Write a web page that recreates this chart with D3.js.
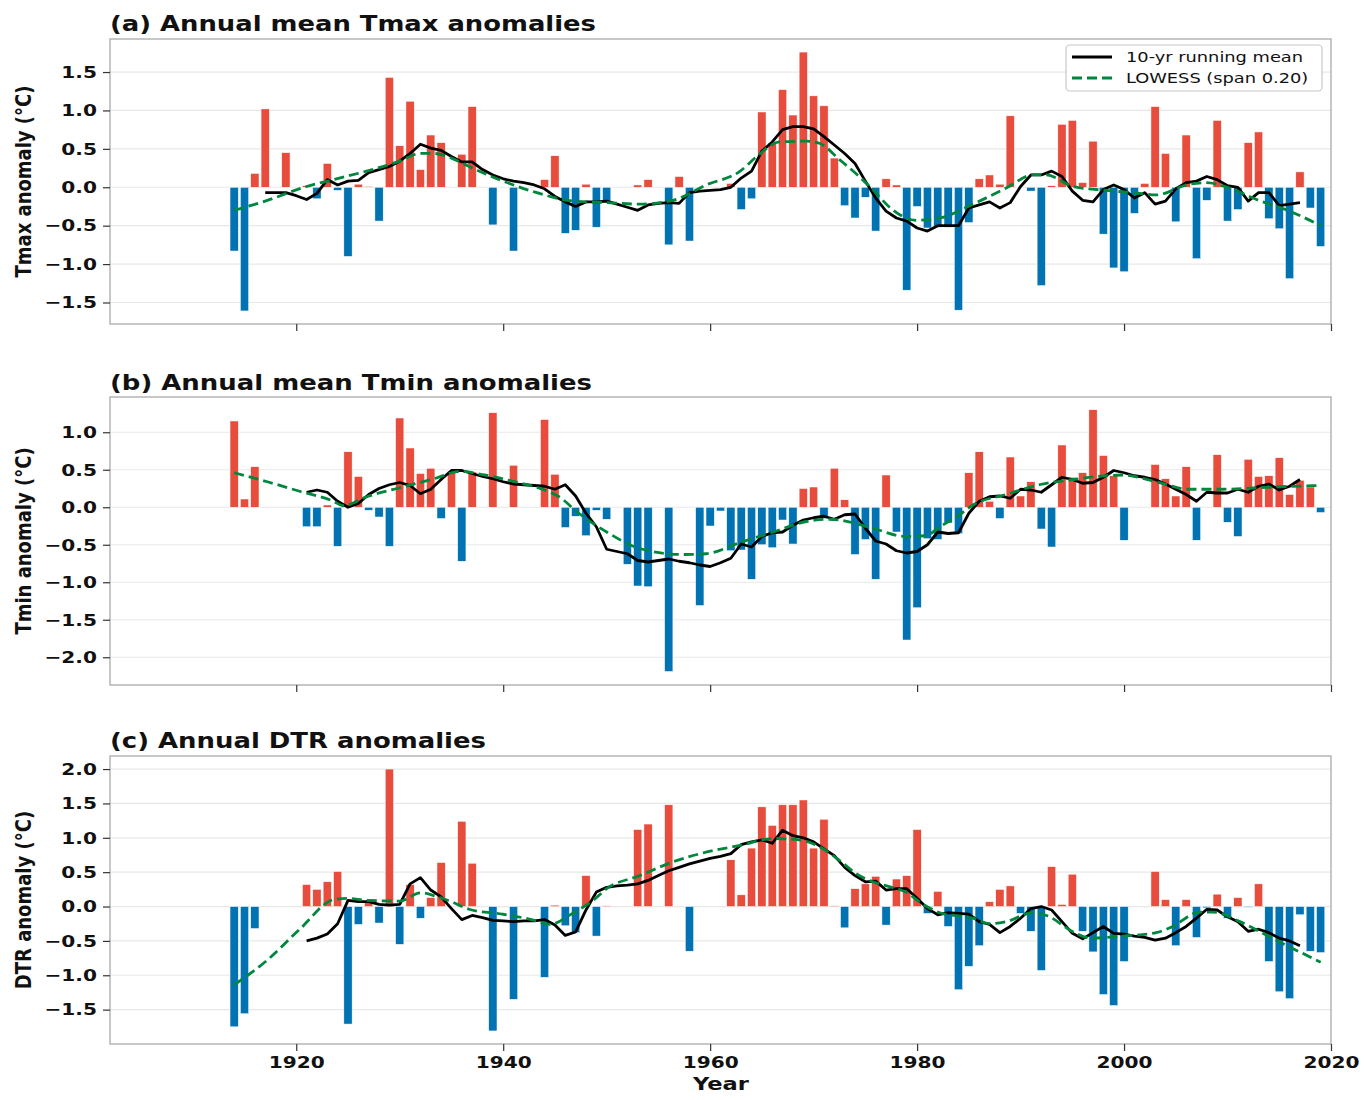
<!DOCTYPE html>
<html lang="en">
<head>
  <meta charset="UTF-8">
  <title>Annual Tmax, Tmin and DTR anomalies</title>
  <style>
    body { margin:0; background:#fff; }
    #chart { display:block; font-family:"DejaVu Sans", sans-serif; }
    .bold { font-weight:bold; }
  </style>
</head>
<body>
  <svg id="chart" width="1372" height="1100"></svg>
  <script src="https://d3js.org/d3.v7.min.js"></script>
  <script>
    // ---- data (null = no value that year) ----
    const years = d3.range(1914, 2020);

    const tmax = [
      -0.83, -1.61, 0.18, 1.02, null, 0.45, null, 0.02, -0.15, 0.31,   // 1914-1923
      -0.04, -0.90, 0.04, 0.01, -0.44, 1.43, 0.54, 1.12, 0.23, 0.68,   // 1924-1933
      0.58, null, 0.43, 1.05, null, -0.49, null, -0.83, null, null,    // 1934-1943
      0.10, 0.41, -0.60, -0.56, 0.04, -0.52, -0.20, null, null, 0.03,  // 1944-1953
      0.10, null, -0.75, 0.14, -0.70, null, null, null, 0.05, -0.29,   // 1954-1963
      -0.15, 0.98, 0.58, 1.27, 0.94, 1.76, 1.19, 1.06, 0.38, -0.24,    // 1964-1973
      -0.40, -0.13, -0.57, 0.11, 0.03, -1.34, -0.25, -0.53, -0.52, -0.52, // 1974-1983
      -1.60, -0.46, 0.11, 0.16, 0.04, 0.93, null, -0.05, -1.28, 0.02,  // 1984-1993
      0.82, 0.87, 0.06, 0.60, -0.61, -1.05, -1.10, -0.34, 0.05, 1.05,  // 1994-2003
      0.44, -0.45, 0.68, -0.93, -0.17, 0.87, -0.44, -0.29, 0.58, 0.72, // 2004-2013
      -0.41, -0.54, -1.19, 0.20, -0.27, -0.77                          // 2014-2019
    ];
    const tmin = [
      1.15, 0.11, 0.54, null, null, null, null, -0.26, -0.26, 0.03,    // 1914-1923
      -0.52, 0.74, 0.41, -0.04, -0.13, -0.52, 1.19, 0.79, 0.45, 0.52,  // 1924-1933
      -0.15, 0.48, -0.72, 0.47, null, 1.26, null, 0.56, null, null,    // 1934-1943
      1.17, 0.44, -0.27, -0.12, -0.38, -0.04, -0.16, null, -0.76, -1.05, // 1944-1953
      -1.06, null, -2.19, null, null, -1.31, -0.25, -0.05, -0.58, -0.57, // 1954-1963
      -0.96, -0.50, -0.54, -0.17, -0.49, 0.25, 0.27, -0.15, 0.52, 0.10, // 1964-1973
      -0.63, -0.43, -0.96, 0.43, -0.33, -1.77, -1.34, -0.42, -0.43, -0.21, // 1974-1983
      -0.35, 0.46, 0.74, 0.08, -0.15, 0.67, 0.15, 0.34, -0.29, -0.53,  // 1984-1993
      0.83, 0.40, 0.46, 1.30, 0.69, 0.42, -0.44, null, null, 0.57,     // 1994-2003
      0.38, 0.15, 0.54, -0.44, null, 0.70, -0.20, -0.39, 0.64, 0.41,   // 2004-2013
      0.42, 0.66, 0.17, 0.36, 0.27, -0.07                              // 2014-2019
    ];
    const dtr = [
      -1.75, -1.56, -0.32, null, null, null, null, 0.32, 0.25, 0.36,   // 1914-1923
      0.51, -1.71, -0.26, 0.07, -0.24, 2.00, -0.55, 0.32, -0.17, 0.13, // 1924-1933
      0.64, null, 1.24, 0.63, null, -1.81, null, -1.35, null, null,    // 1934-1943
      -1.03, 0.02, -0.28, -0.38, 0.45, -0.43, 0.01, null, null, 1.12,  // 1944-1953
      1.20, null, 1.48, null, -0.65, null, null, null, 0.68, 0.17,     // 1954-1963
      0.85, 1.45, 1.18, 1.48, 1.48, 1.55, 0.85, 1.27, 0.01, -0.31,     // 1964-1973
      0.26, 0.33, 0.44, -0.27, 0.40, 0.45, 1.12, -0.10, 0.22, -0.29,   // 1974-1983
      -1.21, -0.87, -0.57, 0.07, 0.25, 0.30, -0.10, -0.36, -0.93, 0.58, // 1984-1993
      0.03, 0.47, -0.36, -0.66, -1.28, -1.44, -0.80, null, null, 0.51, // 1994-2003
      0.10, -0.57, 0.10, -0.45, -0.02, 0.18, -0.17, 0.13, -0.01, 0.33, // 2004-2013
      -0.80, -1.24, -1.34, -0.12, -0.65, -0.67                         // 2014-2019
    ];

    // 10-yr running means
    const runTmaxYears = d3.range(1917, 2018);
    const runTmax = [
      -0.07, -0.07, -0.07, -0.11, -0.16, -0.08, 0.10, 0.03, 0.08, 0.09,
      0.19, 0.23, 0.27, 0.34, 0.44, 0.56, 0.51, 0.48, 0.40, 0.33,
      0.33, 0.23, 0.16, 0.11, 0.08, 0.06, 0.03, -0.02, -0.12, -0.19,
      -0.25, -0.19, -0.19, -0.18, -0.22, -0.26, -0.30, -0.23, -0.21, -0.20,
      -0.21, -0.07, -0.05, -0.04, -0.03, 0.00, 0.12, 0.21, 0.47, 0.59,
      0.75, 0.79, 0.79, 0.76, 0.66, 0.55, 0.44, 0.31, 0.08, -0.14,
      -0.31, -0.40, -0.44, -0.53, -0.57, -0.50, -0.50, -0.50, -0.27, -0.23,
      -0.19, -0.27, -0.20, 0.01, 0.16, 0.16, 0.21, 0.14, -0.05, -0.17,
      -0.19, -0.03, 0.03, -0.03, -0.14, -0.07, -0.22, -0.18, -0.02, 0.06,
      0.08, 0.14, 0.10, 0.02, 0.00, -0.18, -0.07, -0.07, -0.24, -0.22,
      -0.20
    ];
    const runTminYears = d3.range(1921, 2018);
    const runTmin = [
      0.20, 0.23, 0.20, 0.08, 0.00, 0.05, 0.17, 0.25, 0.30, 0.33,
      0.29, 0.18, 0.24, 0.37, 0.49, 0.49, 0.45, 0.41, 0.38, 0.34,
      0.31, 0.30, 0.29, 0.28, 0.24, 0.30, 0.15, -0.08, -0.26, -0.56,
      -0.59, -0.62, -0.71, -0.73, -0.71, -0.69, -0.72, -0.74, -0.77, -0.79,
      -0.74, -0.68, -0.49, -0.53, -0.39, -0.34, -0.33, -0.24, -0.17, -0.14,
      -0.12, -0.16, -0.10, -0.09, -0.28, -0.45, -0.49, -0.58, -0.61, -0.59,
      -0.50, -0.33, -0.35, -0.34, -0.08, 0.08, 0.14, 0.15, 0.12, 0.24,
      0.23, 0.20, 0.30, 0.40, 0.37, 0.32, 0.33, 0.40, 0.49, 0.46,
      0.42, 0.40, 0.37, 0.31, 0.24, 0.17, 0.08, 0.20, 0.19, 0.19,
      0.24, 0.20, 0.28, 0.31, 0.23, 0.28, 0.37
    ];
    const runDtrYears = d3.range(1921, 2018);
    const runDtr = [
      -0.50, -0.46, -0.40, -0.25, 0.09, 0.07, 0.07, 0.03, 0.02, 0.03,
      0.33, 0.42, 0.24, 0.14, -0.03, -0.19, -0.13, -0.16, -0.20, -0.21,
      -0.22, -0.21, -0.21, -0.19, -0.27, -0.42, -0.37, -0.05, 0.21, 0.28,
      0.30, 0.31, 0.33, 0.38, 0.45, 0.52, 0.57, 0.62, 0.66, 0.70,
      0.73, 0.77, 0.90, 0.94, 0.97, 0.92, 1.11, 1.03, 1.00, 0.94,
      0.84, 0.74, 0.57, 0.45, 0.36, 0.37, 0.24, 0.26, 0.26, 0.12,
      -0.03, -0.12, -0.09, -0.10, -0.11, -0.22, -0.26, -0.38, -0.29, -0.17,
      -0.03, 0.00, -0.05, -0.22, -0.39, -0.47, -0.38, -0.29, -0.39, -0.40,
      -0.43, -0.45, -0.49, -0.46, -0.38, -0.29, -0.17, -0.04, -0.05, -0.15,
      -0.22, -0.36, -0.33, -0.38, -0.46, -0.50, -0.57
    ];

    // LOWESS (span 0.20) curves, sampled along the drawn curve
    const lowTmaxYears = [1914, 1917, 1921, 1923.6, 1926.8, 1930, 1932, 1933.3, 1935, 1936.7, 1940, 1943,
      1946.8, 1950, 1953.2, 1956.4, 1959.6, 1962.9, 1964.5, 1966.7, 1969.3, 1970.6, 1972.5, 1974.4, 1975.7,
      1977.6, 1979.9, 1982.2, 1985.4, 1988.6, 1991.2, 1992.5, 1995.1, 1998.3, 2001.5, 2003.1, 2006.3,
      2007.9, 2010.2, 2012.8, 2016, 2019];
    const lowTmax = [-0.30, -0.18, 0.01, 0.10, 0.21, 0.34, 0.44, 0.44, 0.38, 0.27, 0.08, -0.06,
      -0.18, -0.20, -0.22, -0.17, 0.03, 0.21, 0.40, 0.59, 0.60, 0.57, 0.36, 0.14, -0.03,
      -0.29, -0.43, -0.40, -0.22, -0.01, 0.16, 0.16, 0.01, -0.04, -0.08, -0.10, 0.04,
      0.06, -0.01, -0.16, -0.31, -0.50];
    const lowTminYears = [1914, 1917.2, 1920.4, 1923.6, 1924.5, 1926.8, 1930, 1933.3, 1935.9, 1938.2, 1941.4,
      1944, 1945.4, 1947.3, 1950, 1953.2, 1957.4, 1959.6, 1962.9, 1966.1, 1969.3, 1971.5, 1972.5, 1975.7,
      1978.9, 1980.8, 1982.2, 1984.1, 1985.4, 1988.6, 1991.8, 1995.1, 1998.3, 1999.9, 2003.1, 2006.3,
      2009.5, 2014.3, 2019];
    const lowTmin = [0.46, 0.34, 0.21, 0.08, 0.02, 0.14, 0.26, 0.38, 0.48, 0.43, 0.33,
      0.23, 0.14, -0.08, -0.33, -0.55, -0.63, -0.62, -0.47, -0.33, -0.19, -0.16, -0.17, -0.28,
      -0.39, -0.38, -0.26, -0.10, 0.03, 0.17, 0.30, 0.37, 0.42, 0.43, 0.34, 0.24,
      0.24, 0.27, 0.29];
    const lowDtrYears = [1914, 1917.2, 1920.4, 1923.6, 1924.9, 1926.8, 1930, 1932, 1933.3, 1935, 1936.7,
      1939.9, 1943, 1944.5, 1946.8, 1948.7, 1950, 1953.2, 1956.4, 1959.6, 1962.9, 1966.1, 1968.6, 1970.9,
      1972.5, 1974.1, 1975.7, 1977.3, 1978.9, 1980.5, 1982.2, 1985.4, 1987, 1988.6, 1991.2, 1992.5,
      1995.1, 1996.7, 1999.9, 2003.1, 2004.7, 2007.3, 2008.6, 2011.2, 2014.3, 2019];
    const lowDtr = [-1.14, -0.78, -0.32, 0.10, 0.12, 0.09, 0.08, 0.20, 0.16, 0.07, -0.04,
      -0.11, -0.20, -0.26, -0.09, 0.09, 0.26, 0.45, 0.65, 0.79, 0.89, 0.99, 0.97, 0.84,
      0.67, 0.48, 0.36, 0.29, 0.21, 0.04, -0.09, -0.17, -0.25, -0.22, -0.09, -0.13,
      -0.37, -0.46, -0.43, -0.38, -0.29, -0.08, -0.08, -0.22, -0.46, -0.81];

    const tmaxTicks = [-1.5, -1.0, -0.5, 0.0, 0.5, 1.0, 1.5];
    const tminTicks = [-2.0, -1.5, -1.0, -0.5, 0.0, 0.5, 1.0];
    const dtrTicks = [-1.5, -1.0, -0.5, 0.0, 0.5, 1.0, 1.5, 2.0];
    const yearTicks = [1920, 1940, 1960, 1980, 2000, 2020];

    // ---- layout ----
    const svg = d3.select('#chart');
    const left = 110, right = 1331;
    const SX = 1.22;              // the original lettering is stretched sideways
    const RED = '#e74c3c', BLUE = '#0173b2', GREEN = '#00873e';
    const LW = 2.8, DASH = '10,5';

    const x = d3.scaleLinear().domain([1902, 2020]).range([left, right]);

    const panels = [
      {title:'(a) Annual mean Tmax anomalies', titleW:486, titleY:31, ylabel:'Tmax anomaly (°C)',
       values:tmax, runX:runTmaxYears, run:runTmax, lowX:lowTmaxYears, low:lowTmax,
       domain:[-1.78, 1.93], ticks:tmaxTicks, top:39, bottom:324},
      {title:'(b) Annual mean Tmin anomalies', titleW:482, titleY:390, ylabel:'Tmin anomaly (°C)',
       values:tmin, runX:runTminYears, run:runTmin, lowX:lowTminYears, low:lowTmin,
       domain:[-2.37, 1.47], ticks:tminTicks, top:397, bottom:685},
      {title:'(c) Annual DTR anomalies', titleW:376, titleY:748, ylabel:'DTR anomaly (°C)',
       values:dtr, runX:runDtrYears, run:runDtr, lowX:lowDtrYears, low:lowDtr,
       domain:[-2.0, 2.19], ticks:dtrTicks, top:756, bottom:1044}
    ];

    panels.forEach((p, pi) => {
      const y = d3.scaleLinear().domain(p.domain).range([p.bottom, p.top]);
      const g = svg.append('g');

      // grid
      g.append('g').selectAll('line').data(p.ticks).join('line')
        .attr('x1', left).attr('x2', right)
        .attr('y1', d => y(d)).attr('y2', d => y(d))
        .attr('stroke', '#e8e8e8').attr('stroke-width', 1.2);

      // bars
      const bars = years.map((yr, i) => ({yr, v:p.values[i]})).filter(d => d.v != null);
      g.append('g').selectAll('rect').data(bars).join('rect')
        .attr('x', d => x(d.yr - 0.4))
        .attr('width', d => x(d.yr + 0.4) - x(d.yr - 0.4))
        .attr('y', d => Math.min(y(0), y(d.v)))
        .attr('height', d => Math.abs(y(d.v) - y(0)))
        .attr('fill', d => d.v >= 0 ? RED : BLUE)
        .attr('stroke', '#fff').attr('stroke-width', 0.5);

      // running mean + lowess
      const run = p.runX.map((yr, i) => [yr, p.run[i]]);
      const low = p.lowX.map((yr, i) => [yr, p.low[i]]);
      g.append('path').datum(run)
        .attr('d', d3.line().x(d => x(d[0])).y(d => y(d[1])))
        .attr('fill', 'none').attr('stroke', '#000').attr('stroke-width', LW)
        .attr('stroke-linejoin', 'round');
      g.append('path').datum(low)
        .attr('d', d3.line().curve(d3.curveMonotoneX).x(d => x(d[0])).y(d => y(d[1])))
        .attr('fill', 'none').attr('stroke', GREEN).attr('stroke-width', LW)
        .attr('stroke-dasharray', DASH);

      // frame
      g.append('rect')
        .attr('x', left).attr('y', p.top)
        .attr('width', right - left).attr('height', p.bottom - p.top)
        .attr('fill', 'none').attr('stroke', '#aaa').attr('stroke-width', 1.3);

      // y axis
      const ya = g.append('g').attr('transform', `translate(${left},0)`)
        .call(d3.axisLeft(y).tickValues(p.ticks).tickFormat(d3.format('.1f')).tickSize(7));
      ya.select('.domain').remove();
      ya.selectAll('line').attr('stroke', '#333').attr('stroke-width', 1.2);
      ya.selectAll('text')
        .attr('class', 'bold').attr('font-size', 16.5).attr('fill', '#111')
        .attr('font-family', '"DejaVu Sans", sans-serif')
        .attr('x', -13 / SX).attr('transform', `scale(${SX},1)`);

      // x axis (labels only on the bottom panel)
      const last = pi === panels.length - 1;
      const xa = g.append('g').attr('transform', `translate(0,${p.bottom})`)
        .call(d3.axisBottom(x).tickValues(yearTicks).tickFormat(last ? d3.format('d') : '').tickSize(7).tickPadding(5));
      xa.select('.domain').remove();
      xa.selectAll('line').attr('stroke', '#333').attr('stroke-width', 1.2);
      xa.selectAll('text')
        .attr('class', 'bold').attr('font-size', 16.5).attr('fill', '#111')
        .attr('font-family', '"DejaVu Sans", sans-serif')
        .attr('transform', `scale(${SX},1)`);

      // title
      svg.append('text').attr('class', 'bold')
        .attr('x', left).attr('y', p.titleY)
        .attr('font-size', 20.5).attr('fill', '#111')
        .attr('textLength', p.titleW).attr('lengthAdjust', 'spacingAndGlyphs')
        .text(p.title);

      // y label (rotated; thickened to match the stretched lettering)
      svg.append('text').attr('class', 'bold')
        .attr('transform', `translate(31,${(p.top + p.bottom) / 2}) rotate(-90) scale(1,${SX})`)
        .attr('text-anchor', 'middle').attr('font-size', 18).attr('fill', '#111')
        .text(p.ylabel);
    });

    // x label
    svg.append('text').attr('class', 'bold')
      .attr('transform', `translate(721,1090) scale(${SX},1)`)
      .attr('text-anchor', 'middle').attr('font-size', 18.5).attr('fill', '#111')
      .text('Year');

    // legend (panel a)
    const lg = svg.append('g');
    lg.append('rect').attr('x', 1066).attr('y', 45).attr('width', 256).attr('height', 46)
      .attr('rx', 4).attr('fill', '#fff').attr('fill-opacity', 0.85)
      .attr('stroke', '#c8c8c8').attr('stroke-width', 1.2);
    const items = [
      {label:'10-yr running mean', color:'#000', dash:null, ly:57, ty:62},
      {label:'LOWESS (span 0.20)', color:GREEN, dash:DASH, ly:78, ty:83}
    ];
    items.forEach(it => {
      lg.append('line').attr('x1', 1072).attr('x2', 1112).attr('y1', it.ly).attr('y2', it.ly)
        .attr('stroke', it.color).attr('stroke-width', LW).attr('stroke-dasharray', it.dash);
      lg.append('text').attr('transform', `translate(1126,${it.ty}) scale(${SX},1)`)
        .attr('font-size', 14.6).attr('fill', '#111').text(it.label);
    });
  </script>
</body>
</html>
